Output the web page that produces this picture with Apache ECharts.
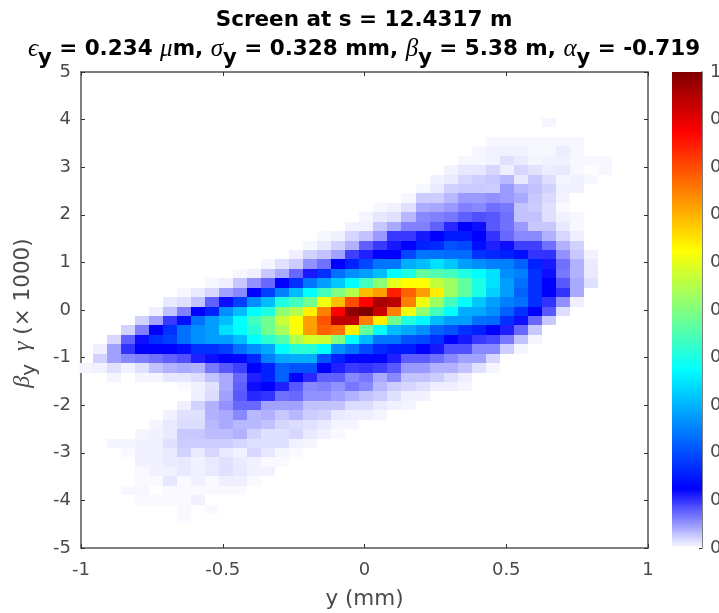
<!DOCTYPE html>
<html><head><meta charset="utf-8">
<style>html,body{margin:0;padding:0;background:#fff}#c{width:719px;height:613px}</style>
<script src="https://cdn.jsdelivr.net/npm/echarts@6/dist/echarts.min.js"></script>
</head><body><div id="c"></div>
<script>
const xTicks = [-1, -0.5, 0, 0.5, 1];
const yTicks = [-5, -4, -3, -2, -1, 0, 1, 2, 3, 4, 5];
const colorbarTicks = [0, 0.1, 0.2, 0.3, 0.4, 0.5, 0.6, 0.7, 0.8, 0.9, 1];
const binWidth = 0.0494, binHeight = 0.1981, xBinZero = 0.007, yBinZero = -0.028;
const colorStops = ['#ffffff', '#0000ff', '#0080ff', '#00ffff', '#80ff80', '#ffff00', '#ff8000', '#ff0000', '#800000'];
const topRow = 20;
const rowStart = [13,0,9,8,7,6,5,4,3,1,0,-1,-3,-4,-5,-7,-9,-11,-13,-14,-15,-16,-17,-18,-19,-19,-20,-18,-13,-12,-13,-14,-15,-16,-18,-17,-16,-16,-16,-17,-16,-13,-13];
const rowValues = [
[.005],
[],
[.004,.004,.004,.004,.004,.004,.004],
[.004,.007,.007,.007,.004,.004,.009,.004],
[.004,.004,.006,.015,.01,.005,.007,.007,.004,.004,.004],
[.006,.012,.012,.02,.008,.02,.014,.009,.011,.004,.001,.004],
[.007,.01,.02,.023,.027,.035,.012,.027,.016,.005,.007,.004],
[.004,.01,.022,.026,.026,.025,.05,.035,.03,.022,.007,.007],
[.004,.025,.025,.035,.05,.05,.054,.05,.042,.027,.018,.006],
[.004,.007,.015,.04,.043,.05,.062,.058,.07,.066,.03,.025,.015,.003],
[.005,.012,.015,.035,.058,.062,.066,.078,.086,.082,.07,.03,.03,.015,.007,.004],
[.007,.007,.027,.042,.062,.062,.078,.105,.125,.118,.082,.07,.05,.027,.027,.011,.004],
[.004,.007,.02,.03,.05,.097,.097,.113,.125,.15,.15,.125,.1,.074,.058,.058,.038,.02,.008],
[.004,.011,.022,.038,.078,.097,.113,.125,.157,.165,.205,.195,.14,.11,.118,.094,.094,.07,.038,.022],
[.008,.022,.03,.046,.094,.11,.125,.125,.195,.24,.235,.23,.23,.175,.165,.157,.14,.1,.1,.054,.027,.006],
[.005,.015,.025,.054,.07,.125,.157,.195,.24,.24,.295,.31,.345,.32,.28,.265,.25,.25,.22,.157,.113,.07,.038,.01],
[.004,.008,.027,.042,.074,.113,.172,.235,.265,.28,.31,.375,.405,.47,.455,.44,.405,.375,.345,.265,.25,.172,.118,.066,.038,.011],
[.004,.008,.027,.054,.074,.125,.172,.24,.28,.32,.375,.44,.51,.6,.625,.625,.565,.53,.47,.4,.345,.28,.235,.172,.125,.082,.042,.015],
[.004,.011,.02,.046,.058,.125,.187,.25,.31,.375,.44,.5,.55,.69,.72,.845,.78,.72,.64,.53,.47,.4,.33,.28,.22,.172,.125,.1,.042],
[.011,.015,.03,.078,.118,.187,.265,.31,.405,.44,.485,.61,.69,.8,.875,.96,.94,.75,.61,.53,.44,.375,.32,.28,.25,.235,.172,.1,.054,.008],
[.008,.03,.0625,.125,.157,.265,.31,.375,.405,.515,.55,.64,.75,.875,.985,1,.93,.75,.61,.515,.44,.375,.295,.29,.265,.22,.172,.125,.082,.016],
[.022,.046,.097,.14,.235,.28,.31,.375,.44,.485,.57,.625,.72,.795,.94,.94,.75,.64,.485,.405,.37,.31,.28,.28,.235,.23,.172,.118,.074,.027],
[.022,.0625,.125,.172,.235,.265,.28,.345,.375,.415,.485,.54,.62,.72,.78,.765,.64,.47,.375,.31,.29,.265,.22,.205,.172,.157,.125,.11,.074,.027],
[.02,.078,.118,.172,.187,.235,.265,.28,.28,.31,.375,.42,.455,.55,.585,.575,.5,.375,.305,.24,.24,.205,.195,.172,.125,.113,.097,.09,.066,.03,.005],
[.008,.046,.1,.125,.125,.125,.14,.172,.172,.187,.235,.265,.29,.375,.415,.415,.375,.265,.235,.195,.165,.15,.15,.125,.113,.086,.086,.058,.058,.025,.005],
[.022,.046,.058,.0625,.07,.078,.086,.11,.118,.125,.13,.165,.25,.29,.295,.295,.205,.157,.13,.13,.13,.11,.08,.08,.07,.058,.046,.046,.02],
[.005,.007,.015,.007,.015,.03,.038,.042,.038,.066,.082,.094,.125,.157,.22,.205,.205,.125,.11,.097,.1,.094,.082,.05,.05,.038,.038,.03,.015,.005],
[.005,0,.005,.005,.012,.012,.017,.03,.042,.074,.11,.157,.22,.125,.105,.078,.078,.058,.066,.042,.058,.03,.03,.025,.015,.008],
[.003,.007,.015,.042,.078,.118,.125,.11,.082,.058,.0625,.054,.066,.058,.035,.025,.02,.015,.008,.008,.005],
[.008,.017,.046,.082,.105,.1,.07,.074,.054,.054,.046,.038,.03,.025,.015,.007,.007],
[.008,.022,.038,.054,.074,.074,.046,.046,.046,.03,.03,.03,.017,.017,.011,.007,.005],
[.007,.015,.015,.038,.042,.058,.035,.038,.027,.035,.025,.022,.011,.008,.008,.005],
[.005,.011,.017,.017,.035,.042,.035,.035,.03,.02,.017,.015,.011,.005,.005],
[.005,.007,.011,.027,.027,.033,.033,.038,.022,.015,.015,.02,.011,.007,.003],
[.005,.005,.007,.007,.015,.025,.025,.025,.025,.02,.015,.015,.015,.007,.005],
[.003,.007,.007,.011,.022,.011,.02,.011,.007,.02,.012,.005,.003],
[.007,.007,.01,.011,.007,.011,.015,.01,.007,.003,.003],
[.003,.007,.007,.011,.007,.011,.015,.011,.007,.007],
[.003,.003,.012,.003,.007,.003,.008,.008,.003],
[.004,.004,0,.003,.003,.003,.003,.003,.003],
[.003,.003,.003,.003,.007],
[.003,0,.003],
[.003]
];
const colorbarLevels = [];
for (let i = 0; i < 256; i++) colorbarLevels.push(i / 256);

const cells = [];
rowValues.forEach((vals, i) => vals.forEach((v, j) => {
  if (v > 0) cells.push([xBinZero + binWidth * (rowStart[i] + j), yBinZero + binHeight * (topRow - i), v]);
}));
const barCells = colorbarLevels.map(l => [0.5, l + 1 / 512, l + 1 / 512]);

const box = '#555555', tickCol = '#333333', textCol = '#4a4a4a';
const greek = {fontFamily: '"Liberation Serif"', fontStyle: 'italic'};
const chart = echarts.init(document.getElementById('c'), null, {renderer: 'canvas'});
function rectItem(w, h) {
  return function (params, api) {
    const x = api.value(0), y = api.value(1);
    const a = api.coord([x - w / 2, y + h / 2]), b = api.coord([x + w / 2, y - h / 2]);
    const x0 = Math.round(a[0]), y0 = Math.round(a[1]), x1 = Math.round(b[0]), y1 = Math.round(b[1]);
    return {type: 'rect', shape: {x: x0, y: y0, width: x1 - x0, height: y1 - y0},
      style: {fill: api.visual('color')}};
  };
}
const lineOpt = {onZero: false, lineStyle: {color: box, width: 1.5}};
const tickOpt = {inside: true, length: 4, lineStyle: {color: tickCol, width: 1}};
const labelStyle = {color: textCol, fontFamily: '"DejaVu Sans"', fontSize: 18};
const titleB = {fontFamily: '"DejaVu Sans"', fontWeight: 'bold', fontSize: 21.5, color: '#000', lineHeight: 29};
const titleG = Object.assign({}, greek, {fontSize: 25, color: '#000', fontWeight: 'normal', lineHeight: 29});
const titleS = {fontFamily: '"DejaVu Sans"', fontWeight: 'bold', fontSize: 21, color: '#000', lineHeight: 29, padding: [18, 0, 0, 0]};
const yNameText = {fontFamily: '"DejaVu Sans"', fontSize: 21.5, color: textCol, lineHeight: 26};
chart.setOption({
  animation: false,
  backgroundColor: '#fff',
  title: {
    left: 364, top: 0, padding: [6, 0, 0, 0], textAlign: 'center',
    text: '{b|Screen at s = 12.4317 m}\n{g|\u03f5}{s|y}{b| = 0.234 }{g|\u03bc}{b|m, }{g|\u03c3}{s|y}{b| = 0.328 mm, }{g|\u03b2}{s|y}{b| = 5.38 m, }{g|\u03b1}{s|y}{b| = -0.719}',
    textStyle: {rich: {b: titleB, g: titleG, s: titleS}}
  },
  grid: [
    {left: 81, top: 72, width: 567, height: 476, outerBoundsMode: 'none'},
    {left: 672, top: 72, width: 30, height: 476, outerBoundsMode: 'none'}
  ],
  xAxis: [
    {gridIndex: 0, type: 'value', min: xTicks[0], max: xTicks[xTicks.length - 1], interval: 0.5, position: 'bottom',
      axisLine: lineOpt, axisTick: tickOpt, splitLine: {show: false},
      axisLabel: Object.assign({margin: 13, formatter: v => String(v)}, labelStyle),
      name: 'y (mm)', nameLocation: 'middle', nameGap: 40,
      nameTextStyle: {color: textCol, fontFamily: '"DejaVu Sans"', fontSize: 21.5}},
    {gridIndex: 0, type: 'value', min: xTicks[0], max: xTicks[xTicks.length - 1], interval: 0.5, position: 'top',
      axisLine: lineOpt, axisTick: tickOpt, axisLabel: {show: false}, splitLine: {show: false}},
    {gridIndex: 1, type: 'value', min: 0, max: 1, show: false}
  ],
  yAxis: [
    {gridIndex: 0, type: 'value', min: yTicks[0], max: yTicks[yTicks.length - 1], interval: 1, position: 'left',
      axisLine: lineOpt, axisTick: tickOpt, splitLine: {show: false},
      axisLabel: Object.assign({margin: 10}, labelStyle),
      name: '{g|\u03b2}{s|y}{w| }{g|\u03b3}{e| (\u00d7 1000)}', nameLocation: 'middle', nameGap: 45,
      nameTextStyle: {rich: {
        g: Object.assign({}, greek, {fontSize: 24, color: textCol, lineHeight: 26}),
        s: {fontFamily: '"DejaVu Sans"', fontSize: 20, color: textCol, lineHeight: 26, padding: [14, 0, 0, 0]},
        w: Object.assign({}, yNameText, {padding: [0, 6, 0, 0]}),
        e: Object.assign({}, yNameText, {padding: [0, 6, 0, 0]})
      }}},
    {gridIndex: 0, type: 'value', min: yTicks[0], max: yTicks[yTicks.length - 1], interval: 1, position: 'right',
      axisLine: lineOpt, axisTick: tickOpt, axisLabel: {show: false}, splitLine: {show: false}},
    {gridIndex: 1, type: 'value', min: 0, max: 1, interval: 0.1, position: 'right',
      axisLine: lineOpt, axisTick: {inside: true, length: 3, lineStyle: {color: tickCol}}, splitLine: {show: false},
      axisLabel: Object.assign({margin: 8, formatter: v => String(v)}, labelStyle)}
  ],
  visualMap: {
    show: false, type: 'continuous', dimension: 2, min: 0, max: 1, seriesIndex: [0, 1],
    inRange: {color: colorStops}
  },
  series: [
    {type: 'custom', coordinateSystem: 'cartesian2d', xAxisIndex: 0, yAxisIndex: 0, data: cells,
      renderItem: rectItem(binWidth, binHeight), encode: {x: 0, y: 1}, silent: true, z: 1},
    {type: 'custom', coordinateSystem: 'cartesian2d', xAxisIndex: 2, yAxisIndex: 2, data: barCells,
      renderItem: rectItem(1, 1 / 200), encode: {x: 0, y: 1}, silent: true, z: 1}
  ]
});
</script></body></html>
